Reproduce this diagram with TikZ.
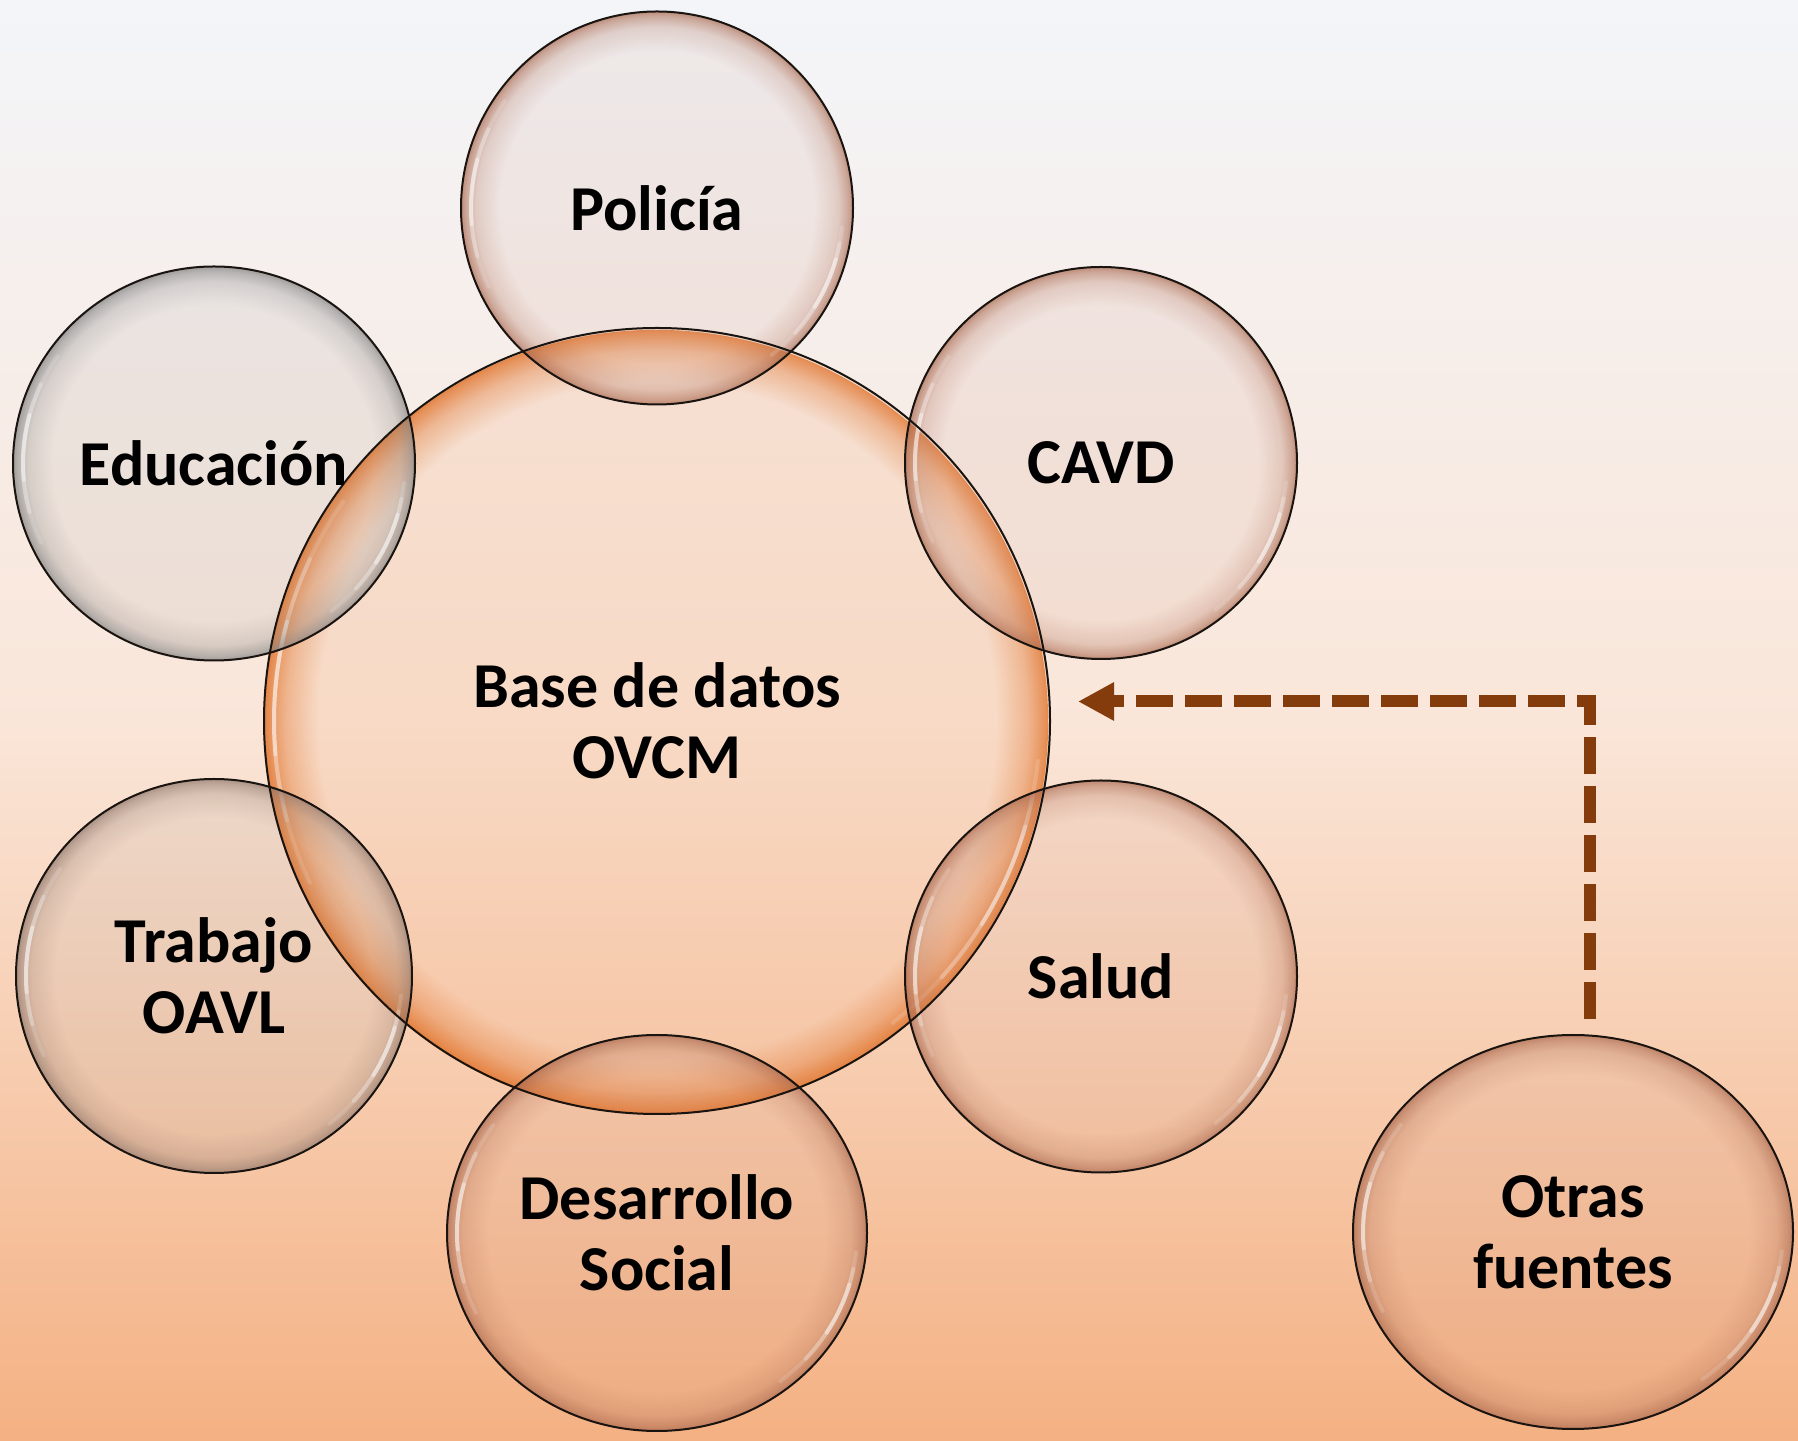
\documentclass[tikz,border=0pt]{standalone}
\usepackage{fontspec}
\setmainfont{Carlito}
\usetikzlibrary{shapes.geometric,arrows.meta,fadings,calc}
\definecolor{bgA}{HTML}{F3F5F9}
\definecolor{bgB}{HTML}{FAE6D9}
\definecolor{bgC}{HTML}{F4B183}
\definecolor{outl}{HTML}{1A1410}
\definecolor{ringBrown}{HTML}{A8664C}
\definecolor{ringGray}{HTML}{7F7F7F}
\definecolor{ringGB}{HTML}{8E7468}
\definecolor{ringOrange}{HTML}{E0722A}
\definecolor{tintBrown}{HTML}{C0806C}
\definecolor{tintGray}{HTML}{8A8A8A}
\definecolor{tintOrange}{HTML}{F4B183}
\definecolor{arrowBrown}{HTML}{843C0C}
\pgfdeclarelayer{bglayer}
\pgfdeclarelayer{decolayer}
\pgfsetlayers{bglayer,decolayer,main}
\pgfdeclareradialshading{ringshade}{\pgfpointorigin}{rgb(0bp)=(0,0,0); rgb(20bp)=(0,0,0); rgb(23bp)=(0.2,0.2,0.2); rgb(24.3bp)=(0.48,0.48,0.48); rgb(25bp)=(0.72,0.72,0.72); rgb(50bp)=(0.72,0.72,0.72)}
\pgfdeclarefading{ringfade}{\pgfuseshading{ringshade}}
\pgfdeclareradialshading{bigringshade}{\pgfpointorigin}{rgb(0bp)=(0,0,0); rgb(21.5bp)=(0,0,0); rgb(23.5bp)=(0.35,0.35,0.35); rgb(24.6bp)=(0.7,0.7,0.7); rgb(25bp)=(0.88,0.88,0.88); rgb(50bp)=(0.88,0.88,0.88)}
\pgfdeclarefading{bigringfade}{\pgfuseshading{bigringshade}}
\newcommand\bigfont{\fontsize{64pt}{71pt}\selectfont\bfseries}
% #1 node, #2 rx, #3 ry, #4 tint, #5 tint opacity, #6 ring colour, #7 fading
\newcommand\bubdeco[7]{%
  \begin{pgfonlayer}{decolayer}
    \fill[#4, fill opacity=#5] (#1.center) ellipse[x radius=#2pt, y radius=#3pt];
    \fill[#6, path fading=#7] (#1.center) ellipse[x radius=#2pt, y radius=#3pt];
    \pgfmathsetmacro\hlx{#2-10}%
    \pgfmathsetmacro\hly{#3-10}%
    \foreach \hs/\ho in {0/0.15,10/0.25,20/0.4}{%
      \draw[white, draw opacity=\ho, line width=4pt, line cap=round]
        ($(#1.center)+({145+\hs}:\hlx pt and \hly pt)$)
        arc[start angle=145+\hs, end angle=205-\hs, x radius=\hlx pt, y radius=\hly pt];
      \draw[white, draw opacity=\ho, line width=4pt, line cap=round]
        ($(#1.center)+({-52+\hs}:\hlx pt and \hly pt)$)
        arc[start angle=-52+\hs, end angle=-6-\hs/2, x radius=\hlx pt, y radius=\hly pt];
    }
  \end{pgfonlayer}}
\tikzset{
  bub/.style={ellipse, draw=outl, line width=2pt, inner sep=0pt, outer sep=0pt,
    font=\bigfont, align=center, text=black},
  flow/.style={draw=arrowBrown, line width=12pt, dash pattern=on 36.7pt off 12.3pt,
    -{Triangle[length=36pt,width=36pt]}}
}
\begin{document}
\begin{tikzpicture}[x=1pt,y=1pt]
\useasboundingbox (0,0) rectangle (1798,1440);
\begin{pgfonlayer}{bglayer}
  \shade[top color=bgA, bottom color=bgB] (0,719) rectangle (1798,1440);
  \shade[top color=bgB, bottom color=bgC] (0,0) rectangle (1798,720);
\end{pgfonlayer}

\node[bub, minimum width=786pt, minimum height=786pt] (base) at (657,719) {Base de datos\\OVCM};
\node[bub, minimum width=392pt, minimum height=393pt] (pol) at (657,1232) {Policía};
\node[bub, minimum width=402pt, minimum height=394pt] (edu) at (214,976.5) {Educación};
\node[bub, minimum width=392pt, minimum height=392pt] (cavd) at (1101,977) {CAVD};
\node[bub, minimum width=396pt, minimum height=394pt] (trab) at (214,464) {Trabajo\\OAVL};
\node[bub, minimum width=392pt, minimum height=392pt] (salud) at (1101,463.5) {Salud};
\node[bub, minimum width=420pt, minimum height=396pt] (des) at (657,207) {Desarrollo\\Social};
\node[bub, minimum width=440pt, minimum height=394pt] (otras) at (1573,208) {Otras\\fuentes};

\bubdeco{base}{393}{393}{tintOrange}{0.22}{ringOrange}{bigringfade}
\bubdeco{pol}{196}{196.5}{tintBrown}{0.1}{ringBrown}{ringfade}
\bubdeco{edu}{201}{197}{tintGray}{0.1}{ringGray}{ringfade}
\bubdeco{cavd}{196}{196}{tintBrown}{0.1}{ringBrown}{ringfade}
\bubdeco{trab}{198}{197}{tintGray}{0.1}{ringGB}{ringfade}
\bubdeco{salud}{196}{196}{tintBrown}{0.1}{ringBrown}{ringfade}
\bubdeco{des}{210}{198}{tintBrown}{0.1}{ringBrown}{ringfade}
\bubdeco{otras}{220}{197}{tintBrown}{0.1}{ringBrown}{ringfade}

\coordinate (src) at (1590,421);
\coordinate (corner) at (1590,738.5);
\coordinate (tip) at (1078,738.5);
\draw[flow] (src) -- (corner) -- (tip);
\end{tikzpicture}
\end{document}
